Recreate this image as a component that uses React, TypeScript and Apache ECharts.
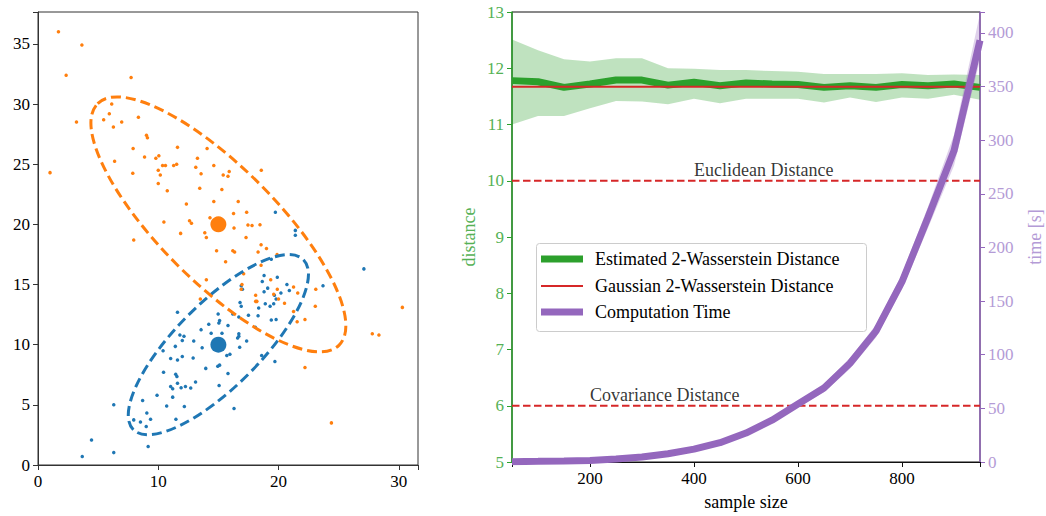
import React, { useEffect, useRef } from "react";
import * as echarts from "echarts";

const FONT = "'Liberation Serif', 'DejaVu Serif', serif";
const BLUE = "#1f77b4";
const ORANGE = "#ff7f0e";
const GREEN = "#2ca02c";
const GREEN_TXT = "#55b155";
const PURPLE = "#9467bd";
const PURPLE_TXT = "#b49bd6";
const RED = "#d62728";
const BLACK = "#000000";

// ---------- Left panel: samples ----------
const blueSamples: number[][] = [
  [11.6, 12.7], [14.98, 12.55], [15.1, 12.0], [15.04, 11.8], [16.2, 12.55], [15.8, 11.6],
  [14.2, 11.7], [13.56, 11.25], [14.4, 10.95], [15.3, 10.95], [11.8, 10.8], [12.14, 10.7],
  [12.0, 10.35], [12.95, 10.3], [16.6, 10.55], [11.42, 9.86], [10.4, 9.5], [13.65, 9.75],
  [15.7, 9.1], [15.96, 9.2], [11.03, 8.86], [11.6, 8.72], [12.0, 9.02], [12.9, 8.9],
  [13.95, 8.03], [14.95, 8.2], [15.1, 8.3], [15.8, 7.6], [10.44, 7.7], [11.45, 7.55],
  [11.55, 7.35], [11.6, 6.8], [11.03, 6.53], [11.2, 6.33], [11.9, 6.42], [12.26, 6.53],
  [12.7, 6.4], [13.1, 6.9], [15.06, 6.6], [9.9, 5.8], [11.2, 5.64], [8.7, 5.36],
  [10.7, 4.9], [12.17, 4.86], [6.3, 5.0], [16.3, 4.7], [9.05, 4.33], [9.36, 3.8],
  [7.96, 3.75], [8.52, 3.58], [9.0, 3.2], [11.47, 3.8], [4.45, 2.08], [9.16, 1.53],
  [6.3, 1.03], [3.68, 0.7],
  [19.74, 21.0], [21.4, 19.5], [21.4, 19.1], [19.4, 17.1], [27.1, 16.3], [18.8, 15.75],
  [19.9, 15.6], [18.65, 15.25], [16.9, 14.9], [17.0, 14.6], [19.1, 14.7], [18.8, 14.4],
  [20.7, 15.0], [20.9, 14.5], [20.2, 14.3], [23.7, 14.9], [19.66, 14.1], [19.8, 13.8],
  [18.9, 13.4], [19.3, 13.2], [19.6, 13.4], [18.35, 13.05], [16.8, 13.5], [16.9, 13.2],
  [16.7, 12.3], [17.5, 12.45], [18.3, 12.4], [19.4, 12.05], [19.8, 12.1], [18.07, 11.45],
  [16.7, 10.9], [16.7, 10.7], [17.35, 10.3], [16.77, 9.78], [18.6, 9.1], [19.7, 8.6],
];

const orangeSamples: number[][] = [
  [1.7, 36.0], [3.65, 34.9], [2.34, 32.4], [7.74, 32.2], [6.13, 30.0], [5.93, 29.2],
  [5.46, 28.7], [6.96, 28.5], [3.2, 28.5], [8.35, 28.9], [6.27, 28.1], [9.02, 27.4],
  [9.1, 27.2], [7.91, 26.3], [11.6, 26.4], [6.37, 25.25], [8.86, 25.6], [9.8, 25.5],
  [10.05, 25.7], [10.36, 24.9], [10.6, 24.9], [11.28, 24.9], [11.53, 25.0], [13.26, 25.5],
  [14.06, 26.3], [14.62, 24.9], [13.12, 24.75], [13.56, 24.2], [15.4, 24.1], [15.8, 24.0],
  [15.9, 24.4], [1.0, 24.3], [7.88, 24.25], [10.0, 24.5], [10.17, 24.1], [10.0, 23.4],
  [10.75, 22.8], [13.45, 23.0], [15.29, 22.9], [18.57, 24.5], [14.62, 21.9], [16.65, 21.9],
  [12.34, 21.7], [16.26, 20.9], [17.35, 21.0], [14.3, 20.55], [12.6, 20.3], [12.76, 20.1],
  [17.46, 19.95], [17.8, 19.9], [18.46, 19.97], [16.3, 19.7], [13.87, 19.3], [14.0, 18.9],
  [17.3, 18.9], [11.86, 19.25], [18.55, 18.3], [19.0, 18.0], [14.85, 17.8], [16.2, 17.8],
  [16.35, 17.7], [18.3, 17.7], [15.6, 16.9], [18.55, 16.6], [17.1, 15.9], [14.0, 15.4],
  [19.35, 15.4], [21.25, 14.8], [19.9, 14.6], [21.6, 14.3], [23.1, 14.6], [18.1, 14.1],
  [10.47, 20.2], [7.96, 18.7], [16.9, 14.6], [16.96, 15.0], [18.1, 13.6], [13.5, 13.8],
  [19.6, 14.2], [20.0, 13.8], [18.2, 13.6], [20.5, 13.45], [23.06, 13.2], [21.25, 12.75],
  [22.2, 12.1], [21.55, 11.9], [30.3, 13.1], [27.8, 10.9], [28.35, 10.8], [22.2, 8.1],
  [24.4, 3.5], [19.88, 17.5],
];

const blueMean = [15, 10];
const orangeMean = [15, 20];
// cx, cy, semi-major, semi-minor, angle (deg, anticlockwise)
const blueEllipse = [15, 10, 10, 3.5, 45];
const orangeEllipse = [15, 20, 14.2, 4.8, -45];

// ---------- Right panel ----------
const sampleSizes = [50, 100, 150, 200, 250, 300, 350, 400, 450, 500, 550, 600, 650, 700, 750, 800, 850, 900, 950];
const estMean = [11.78, 11.76, 11.66, 11.72, 11.79, 11.79, 11.7, 11.75, 11.69, 11.74, 11.72, 11.71, 11.66, 11.69, 11.66, 11.71, 11.69, 11.72, 11.66];
const estUpper = [12.51, 12.32, 12.16, 12.12, 12.18, 12.18, 12.0, 11.99, 11.97, 11.97, 11.95, 11.94, 11.9, 11.9, 11.9, 11.91, 11.88, 11.89, 11.88];
const estLower = [11.0, 11.15, 11.15, 11.29, 11.42, 11.41, 11.36, 11.46, 11.38, 11.46, 11.46, 11.46, 11.39, 11.48, 11.4, 11.48, 11.46, 11.53, 11.44];
const gaussianW2 = 11.67;
const euclideanDist = 10;
const covarianceDist = 6;
const timeMean = [0.3, 0.6, 1.0, 1.5, 2.8, 4.6, 7.7, 12, 18, 27, 39, 54, 69, 92, 122, 168, 228, 290, 393];
const timeUpper = [0.4, 0.8, 1.2, 1.8, 3.2, 5.2, 8.5, 13, 19.5, 29, 41, 57, 73, 97, 128, 175, 238, 305, 418];
const timeLower = [0.2, 0.4, 0.8, 1.2, 2.4, 4.0, 6.9, 11, 16.5, 25, 37, 51, 65, 87, 116, 161, 218, 276, 375];

const annotationText = ["Euclidean Distance", "Covariance Distance"];
const annotationX = [400, 200];
const annotationY = [euclideanDist, covarianceDist];

const legendLabels = ["Estimated 2-Wasserstein Distance", "Gaussian 2-Wasserstein Distance", "Computation Time"];

const pairs = (xs: number[], ys: number[]) => xs.map((x, i) => [x, ys[i]]);
const hideOff = (step: number) => (v: number) => (Math.abs(v / step - Math.round(v / step)) < 1e-6 ? String(Math.round(v)) : "");

function ellipseSeries(params: number[], color: string) {
  return {
    type: "custom",
    xAxisIndex: 0,
    yAxisIndex: 0,
    silent: true,
    z: 4,
    data: [params],
    encode: { x: 0, y: 1 },
    renderItem: (_p: any, api: any) => {
      const c = api.coord([api.value(0), api.value(1)]);
      const rx = api.size([api.value(2), 0])[0];
      const ry = api.size([0, api.value(3)])[1];
      return {
        type: "ellipse",
        x: c[0],
        y: c[1],
        rotation: (api.value(4) * Math.PI) / 180,
        shape: { cx: 0, cy: 0, rx, ry },
        style: { fill: "none", stroke: color, lineWidth: 3, lineDash: [10, 5] },
      };
    },
  };
}

function bandSeries(yAxisIndex: number, lower: number[], upper: number[], fill: string, z: number) {
  return {
    type: "custom",
    xAxisIndex: 1,
    yAxisIndex,
    silent: true,
    z,
    data: [[sampleSizes[0], lower[0]]],
    encode: { x: 0, y: 1 },
    renderItem: (_p: any, api: any) => {
      const top = sampleSizes.map((x, i) => api.coord([x, upper[i]]));
      const bot = sampleSizes.map((x, i) => api.coord([x, lower[i]])).reverse();
      return {
        type: "polygon",
        shape: { points: [...top, ...bot] },
        style: { fill, stroke: "none" },
      };
    },
  };
}

export default function App() {
  const ref = useRef<HTMLDivElement>(null);
  useEffect(() => {
    if (!ref.current) return;
    const chart = echarts.init(ref.current, undefined, { renderer: "svg" });
    const tickLabel = { fontFamily: FONT, fontSize: 17, color: BLACK };
    const legendTop = 243;
    const legendLeft = 536;
    const rowY = [259, 286, 312];
    const legendLines = [
      { color: GREEN, width: 7 },
      { color: RED, width: 2 },
      { color: PURPLE, width: 7 },
    ];
    const option: any = {
      animation: false,
      textStyle: { fontFamily: FONT },
      grid: [
        { left: 38, top: 12, width: 380, height: 453, show: true, borderColor: "#333", borderWidth: 1 },
        { left: 512, top: 12, width: 468, height: 453, show: true, borderColor: "#111", borderWidth: 1 },
      ],
      xAxis: [
        {
          type: "value", gridIndex: 0, min: 0, max: 31.6, interval: 10,
          axisLine: { show: true, onZero: false, lineStyle: { color: "#333", width: 1 } },
          axisTick: { show: true, length: 5, lineStyle: { color: "#333" } },
          axisLabel: { ...tickLabel, margin: 8, formatter: hideOff(10) },
          splitLine: { show: false },
        },
        {
          type: "value", gridIndex: 1, min: 50, max: 950, splitNumber: 5,
          name: "sample size", nameLocation: "middle", nameGap: 31,
          nameTextStyle: { fontFamily: FONT, fontSize: 18, color: BLACK },
          axisLine: { show: true, onZero: false, lineStyle: { color: "#111", width: 1 } },
          axisTick: { show: true, length: 5, lineStyle: { color: "#111" } },
          axisLabel: { ...tickLabel, margin: 8, formatter: hideOff(200) },
          splitLine: { show: false },
        },
      ],
      yAxis: [
        {
          type: "value", gridIndex: 0, min: 0, max: 37.65, interval: 5,
          axisLine: { show: true, onZero: false, lineStyle: { color: "#333", width: 1 } },
          axisTick: { show: true, length: 5, lineStyle: { color: "#333" } },
          axisLabel: { ...tickLabel, margin: 8, formatter: hideOff(5) },
          splitLine: { show: false },
        },
        {
          type: "value", gridIndex: 1, min: 5, max: 13, interval: 1,
          name: "distance", nameLocation: "middle", nameGap: 34, nameRotate: 90,
          nameTextStyle: { fontFamily: FONT, fontSize: 18, color: GREEN_TXT },
          axisLine: { show: true, onZero: false, lineStyle: { color: GREEN, width: 1.5 } },
          axisTick: { show: true, length: 5, lineStyle: { color: GREEN } },
          axisLabel: { ...tickLabel, color: GREEN_TXT, margin: 8, formatter: hideOff(1) },
          splitLine: { show: false },
        },
        {
          type: "value", gridIndex: 1, position: "right", min: 0, max: 419.4, interval: 50,
          name: "time [s]", nameLocation: "middle", nameGap: 46, nameRotate: 90,
          nameTextStyle: { fontFamily: FONT, fontSize: 18, color: PURPLE_TXT },
          axisLine: { show: true, onZero: false, lineStyle: { color: PURPLE, width: 1.5 } },
          axisTick: { show: true, length: 5, lineStyle: { color: PURPLE } },
          axisLabel: { ...tickLabel, color: PURPLE_TXT, margin: 8, formatter: hideOff(50) },
          splitLine: { show: false },
        },
      ],
      series: [
        // left panel
        {
          type: "scatter", xAxisIndex: 0, yAxisIndex: 0, symbolSize: 3.5, silent: true,
          itemStyle: { color: BLUE, opacity: 1 }, data: blueSamples, z: 2,
        },
        {
          type: "scatter", xAxisIndex: 0, yAxisIndex: 0, symbolSize: 3.5, silent: true,
          itemStyle: { color: ORANGE, opacity: 1 }, data: orangeSamples, z: 2,
        },
        ellipseSeries(blueEllipse, BLUE),
        ellipseSeries(orangeEllipse, ORANGE),
        {
          type: "scatter", xAxisIndex: 0, yAxisIndex: 0, symbolSize: 16, silent: true,
          itemStyle: { color: BLUE, opacity: 1 }, data: [blueMean], z: 5,
        },
        {
          type: "scatter", xAxisIndex: 0, yAxisIndex: 0, symbolSize: 16, silent: true,
          itemStyle: { color: ORANGE, opacity: 1 }, data: [orangeMean], z: 5,
        },
        // right panel
        bandSeries(1, estLower, estUpper, "rgba(44,160,44,0.3)", 1),
        {
          type: "line", xAxisIndex: 1, yAxisIndex: 1, symbol: "none", silent: true,
          lineStyle: { color: GREEN, width: 7 }, data: pairs(sampleSizes, estMean), z: 2,
        },
        {
          type: "line", xAxisIndex: 1, yAxisIndex: 1, symbol: "none", silent: true,
          lineStyle: { color: RED, width: 2 },
          data: [[sampleSizes[0], gaussianW2], [sampleSizes[sampleSizes.length - 1], gaussianW2]], z: 3,
        },
        {
          type: "line", xAxisIndex: 1, yAxisIndex: 1, symbol: "none", silent: true,
          lineStyle: { color: RED, width: 2, type: [7.5, 3.5] },
          data: [[sampleSizes[0], euclideanDist], [sampleSizes[sampleSizes.length - 1], euclideanDist]], z: 3,
        },
        {
          type: "line", xAxisIndex: 1, yAxisIndex: 1, symbol: "none", silent: true,
          lineStyle: { color: RED, width: 2, type: [7.5, 3.5] },
          data: [[sampleSizes[0], covarianceDist], [sampleSizes[sampleSizes.length - 1], covarianceDist]], z: 3,
        },
        {
          type: "scatter", xAxisIndex: 1, yAxisIndex: 1, symbolSize: 0, silent: true, z: 6,
          data: annotationX.map((x, i) => ({ value: [x, annotationY[i]], name: annotationText[i] })),
          label: {
            show: true, position: "top", align: "left", distance: 2,
            formatter: (p: any) => p.name, fontFamily: FONT, fontSize: 18, color: BLACK,
          },
        },
        bandSeries(2, timeLower, timeUpper, "rgba(148,103,189,0.3)", 4),
        {
          type: "line", xAxisIndex: 1, yAxisIndex: 2, symbol: "none", silent: true,
          lineStyle: { color: PURPLE, width: 7 }, data: pairs(sampleSizes, timeMean), z: 5,
        },
      ],
      graphic: [
        {
          type: "rect", left: legendLeft, top: legendTop, z: 50,
          shape: { width: 330, height: 88, r: 3 },
          style: { fill: "rgba(255,255,255,0.85)", stroke: "#cccccc", lineWidth: 1 },
        },
        ...legendLines.map((l, i) => ({
          type: "line", z: 51,
          shape: { x1: 541, y1: rowY[i], x2: 583, y2: rowY[i] },
          style: { stroke: l.color, lineWidth: l.width },
        })),
        ...legendLabels.map((t, i) => ({
          type: "text", z: 51, x: 595, y: rowY[i],
          style: { text: t, font: `18px ${FONT}`, fill: BLACK, verticalAlign: "middle", align: "left" },
        })),
      ],
    };
    chart.setOption(option);
    return () => chart.dispose();
  }, []);
  return <div ref={ref} style={{ position: "absolute", left: 0, top: 0, width: 1046, height: 516 }} />;
}
